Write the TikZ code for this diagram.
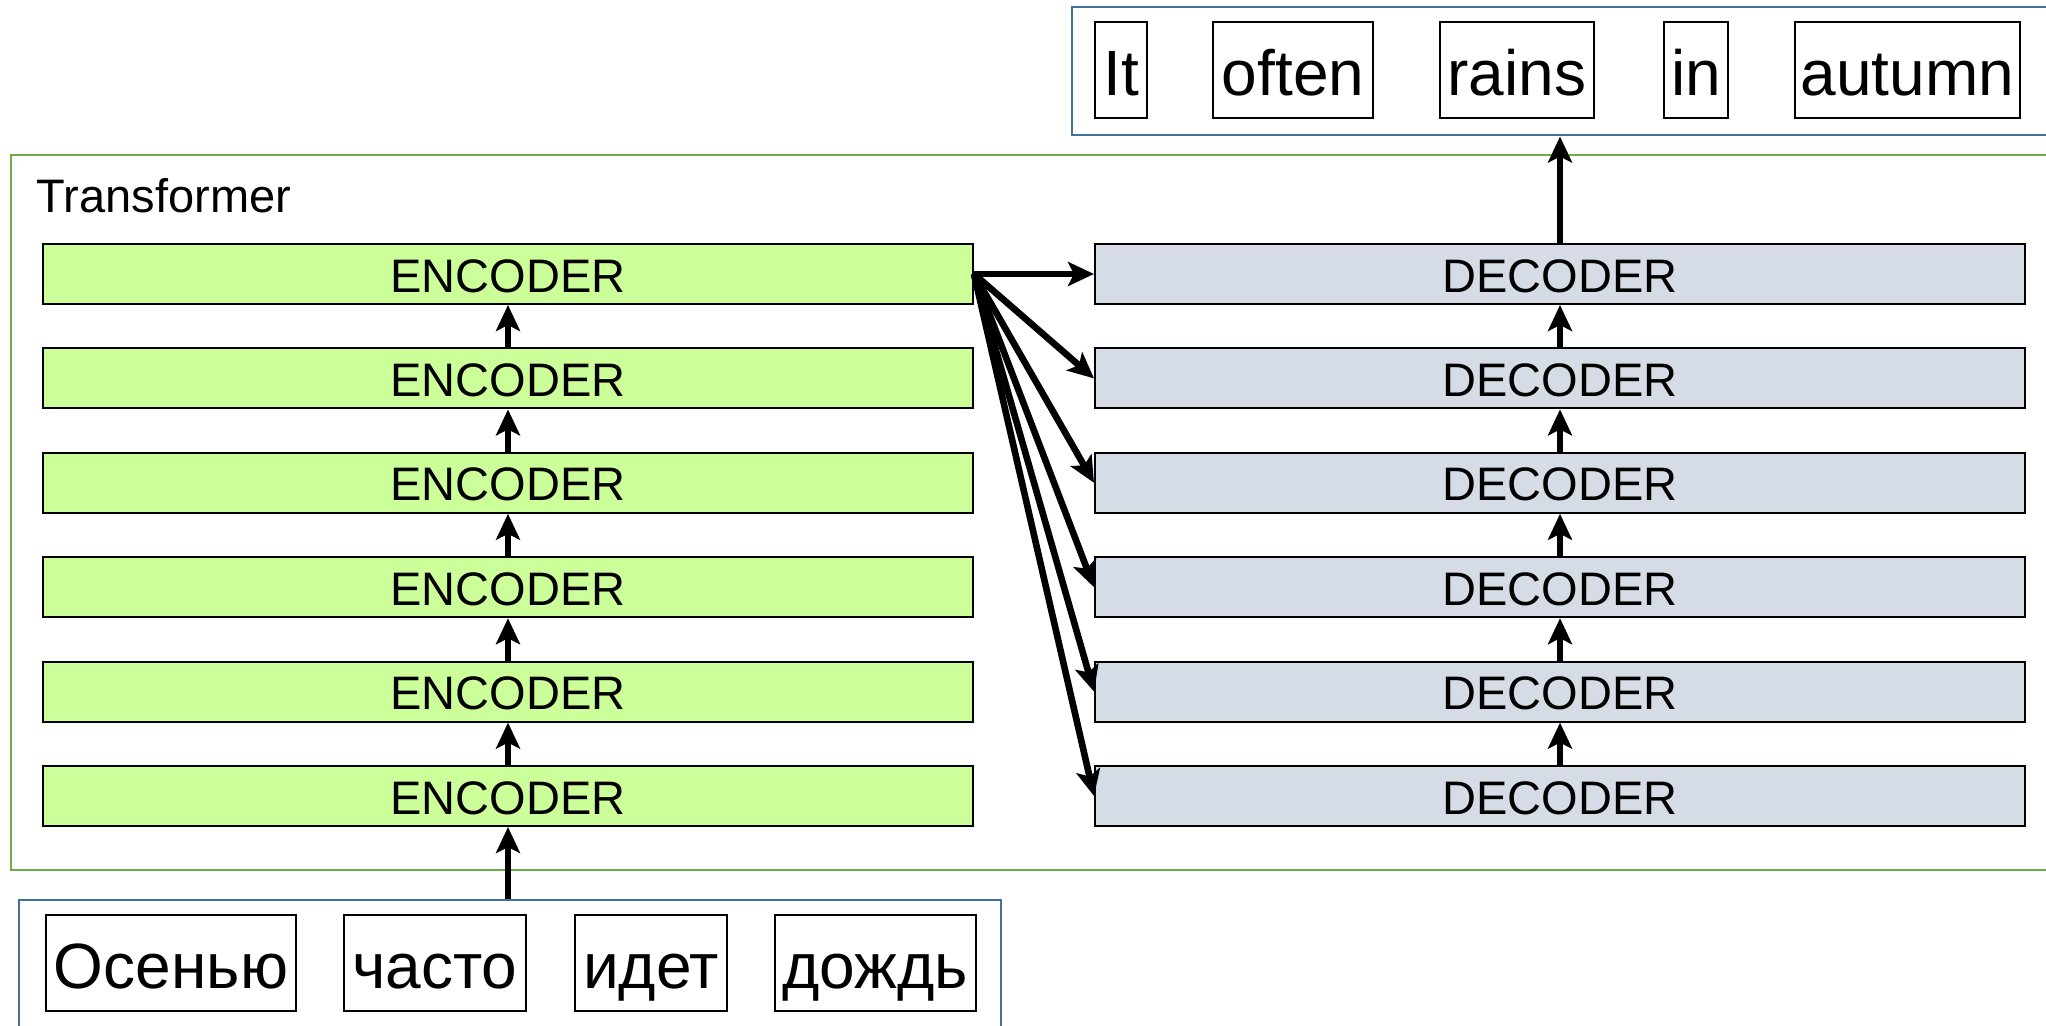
\documentclass[tikz,border=0pt]{standalone}
\usepackage{fontspec}
\setmainfont{Liberation Sans}
\usetikzlibrary{arrows.meta}
\definecolor{encfill}{HTML}{CCFF99}
\definecolor{decfill}{HTML}{D6DCE5}
\definecolor{tfgreen}{HTML}{70AD47}
\definecolor{boxblue}{HTML}{41719C}
\newcommand{\labfont}{\fontsize{23.5}{28}\selectfont}
\newcommand{\wordfont}{\fontsize{32}{38}\selectfont}
\tikzset{
  layerbox/.style={draw=black, line width=1pt, minimum width=465pt, minimum height=30pt, inner sep=0pt, text height=18.1pt, text depth=0pt, font=\labfont},
  encbox/.style={layerbox, fill=encfill},
  decbox/.style={layerbox, fill=decfill},
  wordbox/.style={draw=black, line width=1pt, fill=white, minimum height=48pt, inner sep=0pt, text height=25.5pt, text depth=0pt, font=\wordfont},
  container/.style={line width=1pt, anchor=north west, inner sep=0pt},
  arr/.style={line width=3.3pt, -{Stealth[length=13pt,width=12pt,inset=3pt]}},
}
\begin{document}
\begin{tikzpicture}[x=0.5pt,y=-0.5pt]
\useasboundingbox (0,0) rectangle (2046,1026);
\clip (0,0) rectangle (2046,1026);
\fill[white] (0,0) rectangle (2046,1026);
% containers
\node[container, draw=tfgreen, minimum width=1034.8pt, minimum height=357.5pt] (tf) at (10.4,154) {};
\node[container, draw=boxblue, minimum width=504.5pt, minimum height=64pt] (outbox) at (1071,6.5) {};
\node[container, draw=boxblue, minimum width=490.75pt, minimum height=70.5pt] (inbox) at (18,899) {};
\node[anchor=west, font=\labfont, inner sep=0pt] (tflabel) at (36.5,196) {Transformer};
% output words
\node[wordbox, minimum width=26pt] (o1) at (1121,70.5) {It};
\node[wordbox, minimum width=80pt] (o2) at (1293,70.5) {often};
\node[wordbox, minimum width=77pt] (o3) at (1517,70.5) {rains};
\node[wordbox, minimum width=32pt] (o4) at (1696,70.5) {in};
\node[wordbox, minimum width=112.5pt] (o5) at (1907.5,70.5) {autumn};
% input words
\node[wordbox, minimum width=125pt] (i1) at (171,963) {Осенью};
\node[wordbox, minimum width=91pt] (i2) at (435,963) {часто};
\node[wordbox, minimum width=76pt] (i3) at (651,963) {идет};
\node[wordbox, minimum width=100.5pt] (i4) at (875.5,963) {дождь};
% encoders and decoders
\foreach \i/\yy in {1/274,2/378.4,3/482.8,4/587.2,5/691.6,6/796}{
  \node[encbox] (e\i) at (508,\yy) {ENCODER};
  \node[decbox] (d\i) at (1560,\yy) {DECODER};
}
% vertical arrows
\foreach \a/\b in {6/5,5/4,4/3,3/2,2/1}{
  \draw[arr] (e\a.north) -- (e\b.south);
  \draw[arr] (d\a.north) -- (d\b.south);
}
\draw[arr] (inbox.north -| e6.south) -- (e6.south);
\draw[arr] (d1.north) -- (d1.north |- outbox.south);
% fan arrows
\foreach \i in {1,...,6}{
  \draw[arr] (e1.east) -- (d\i.west);
}
\end{tikzpicture}
\end{document}
